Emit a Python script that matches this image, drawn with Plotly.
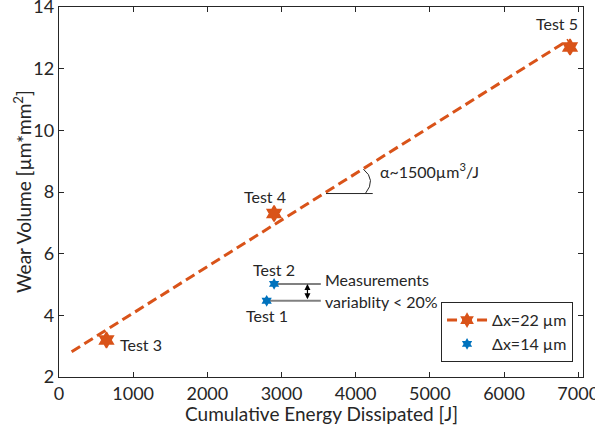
import plotly.graph_objects as go

# ---- data ----
orange_x = [640, 2900, 6890]
orange_y = [3.2, 7.3, 12.7]
orange_labels = ["Test 3", "Test 4", "Test 5"]
blue_x = [2800, 2900]
blue_y = [4.47, 5.02]
blue_labels = ["Test 1", "Test 2"]
fit_x = [170, 6870]
fit_y = [2.82, 12.93]
x_ticks = [0, 1000, 2000, 3000, 4000, 5000, 6000, 7000]
y_ticks = [2, 4, 6, 8, 10, 12, 14]

ORANGE = "#D95319"
BLUE = "#0072BD"
AX = "#262626"
FONT = "Lato, 'DejaVu Sans', sans-serif"
DASH = "10px,5px"

fig = go.Figure()

# fit line
fig.add_trace(go.Scatter(x=fit_x, y=fit_y, mode="lines",
                         line=dict(color=ORANGE, width=3, dash=DASH),
                         showlegend=False, hoverinfo="skip"))
# orange markers
fig.add_trace(go.Scatter(x=orange_x, y=orange_y, mode="markers",
                         marker=dict(symbol="hexagram", size=12, color=ORANGE,
                                     line=dict(color=ORANGE, width=1.5)),
                         showlegend=False))
# blue markers
fig.add_trace(go.Scatter(x=blue_x, y=blue_y, mode="markers",
                         marker=dict(symbol="hexagram", size=9, color=BLUE),
                         showlegend=False))
# legend-only entries
fig.add_trace(go.Scatter(x=[None], y=[None], mode="lines+markers",
                         line=dict(color=ORANGE, width=3, dash=DASH),
                         marker=dict(symbol="hexagram", size=12, color=ORANGE),
                         name="Δx=22 µm"))
fig.add_trace(go.Scatter(x=[None], y=[None], mode="markers",
                         marker=dict(symbol="hexagram", size=9, color=BLUE),
                         name="Δx=14 µm"))

# variability lines
for bx, by in zip(blue_x, blue_y):
    fig.add_shape(type="line", x0=bx, x1=3530, y0=by, y1=by,
                  line=dict(color="#808080", width=2), layer="below")
fig.add_annotation(x=3350, y=blue_y[1], ax=3350, ay=blue_y[0],
                   xref="x", yref="y", axref="x", ayref="y",
                   showarrow=True, arrowhead=2, arrowside="end+start",
                   arrowsize=1, arrowwidth=1.2, arrowcolor="black", text="")

# slope annotation
ang_y = 7.95
fig.add_shape(type="line", x0=3600, x1=4230, y0=ang_y, y1=ang_y,
              line=dict(color=AX, width=1))
fig.add_shape(type="path", path="M 4131,7.95 Q 4281,8.40 4104,8.74",
              line=dict(color=AX, width=1))

ann_font = dict(family=FONT, size=16, color=AX)
fig.add_annotation(x=4300, y=8.7, text="α~1500µm<sup>3</sup>/J", showarrow=False,
                   xanchor="left", yanchor="middle", font=ann_font)
fig.add_annotation(x=3560, y=5.15, text="Measurements", showarrow=False,
                   xanchor="left", yanchor="middle", font=ann_font)
fig.add_annotation(x=3560, y=4.45, text="variablity &lt; 20%", showarrow=False,
                   xanchor="left", yanchor="middle", font=ann_font)

# test labels
label_pos = {"Test 3": (1100, 3.05, "center"), "Test 4": (2780, 7.85, "center"),
             "Test 5": (6720, 13.45, "center"), "Test 1": (2800, 4.0, "center"),
             "Test 2": (2900, 5.5, "center")}
for lab in orange_labels + blue_labels:
    tx, ty, anc = label_pos[lab]
    fig.add_annotation(x=tx, y=ty, text=lab, showarrow=False,
                       xanchor=anc, yanchor="middle", font=ann_font)

# axis titles as annotations (precise placement)
title_font = dict(family=FONT, size=19, color=AX)
fig.add_annotation(x=0.5, y=0, xref="paper", yref="paper", yshift=-36,
                   text="Cumulative Energy Dissipated [J]", showarrow=False,
                   xanchor="center", yanchor="middle", font=title_font)
fig.add_annotation(x=0, y=0.5, xref="paper", yref="paper", xshift=-37,
                   text="Wear Volume [µm*mm<sup>2</sup>]", showarrow=False,
                   textangle=-90, xanchor="center", yanchor="middle", font=title_font)

fig.update_layout(
    width=595, height=428,
    margin=dict(l=59, r=12, t=7, b=51, autoexpand=False),
    paper_bgcolor="white", plot_bgcolor="white",
    font=dict(family=FONT, color=AX),
    showlegend=True,
    legend=dict(x=0.981, y=0.04, xanchor="right", yanchor="bottom",
                bordercolor=AX, borderwidth=1, bgcolor="white",
                font=dict(family=FONT, size=16, color=AX),
                tracegroupgap=0, itemwidth=40),
)
fig.update_xaxes(range=[0, 7065], tickvals=x_ticks, ticks="inside", ticklen=5,
                 tickcolor=AX, showline=True, linecolor=AX, linewidth=1.3,
                 mirror="ticks", showgrid=False, zeroline=False, automargin=False,
                 ticklabeloverflow="allow",
                 tickfont=dict(family=FONT, size=18, color=AX))
fig.update_yaxes(range=[2, 14], tickvals=y_ticks, ticks="inside", ticklen=5,
                 tickcolor=AX, showline=True, linecolor=AX, linewidth=1.3,
                 mirror="ticks", showgrid=False, zeroline=False, automargin=False,
                 ticklabeloverflow="allow",
                 tickfont=dict(family=FONT, size=18, color=AX))

fig.write_html("out.html", config={"displayModeBar": False},
               post_script="document.body.style.margin='0px';document.body.style.overflow='hidden';")
